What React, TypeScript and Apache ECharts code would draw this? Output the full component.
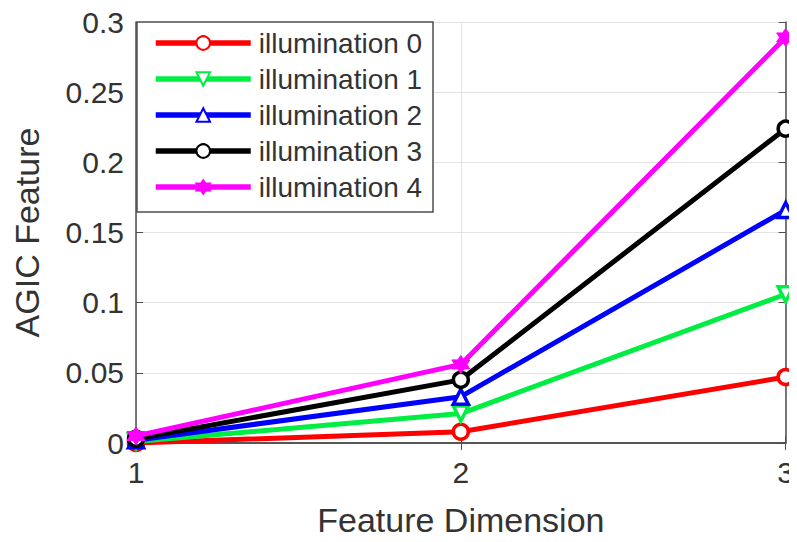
import React, { useEffect, useRef } from "react";
import * as echarts from "echarts";

const categories = ["1", "2", "3"];
const seriesNames = ["illumination 0", "illumination 1", "illumination 2", "illumination 3", "illumination 4"];
const illum0 = [0.0, 0.008, 0.047];
const illum1 = [0.001, 0.021, 0.106];
const illum2 = [0.002, 0.033, 0.166];
const illum3 = [0.003, 0.045, 0.224];
const illum4 = [0.005, 0.056, 0.289];
const yTicks = { min: 0, max: 0.3, interval: 0.05 };

const colors = ["#ff0000", "#00ee44", "#0000ff", "#000000", "#ff00ff"];
const star =
  "path://M0,-10 L2.9,-5 L8.66,-5 L5.8,0 L8.66,5 L2.9,5 L0,10 L-2.9,5 L-8.66,5 L-5.8,0 L-8.66,-5 L-2.9,-5 Z";

export default function App() {
  const ref = useRef<HTMLDivElement>(null);
  useEffect(() => {
    if (!ref.current) return;
    const chart = echarts.init(ref.current, undefined, { renderer: "svg" });
    const data = [illum0, illum1, illum2, illum3, illum4];
    const symbols = ["circle", "triangle", "triangle", "circle", star];
    const rotates = [0, 180, 0, 0, 0];
    const font = "Liberation Sans, Arial, sans-serif";
    const boxColor = "#4d4d4d";
    chart.setOption({
      animation: false,
      backgroundColor: "#ffffff",
      grid: { left: 136, right: 11, top: 22, bottom: 90, containLabel: false },
      legend: {
        orient: "vertical",
        left: 153,
        top: 29,
        itemWidth: 95,
        itemHeight: 17,
        itemGap: 8,
        padding: 0,
        z: 30,
        data: seriesNames,
        lineStyle: { width: 5.5 },
        textStyle: { fontFamily: font, fontSize: 28, color: "#333333", lineHeight: 28, padding: [0, 0, 0, 3] },
      },
      graphic: [
        {
          type: "rect",
          shape: { x: 137, y: 22, width: 296, height: 190 },
          style: { fill: "#ffffff", stroke: boxColor, lineWidth: 1.5 },
          z: 1,
        },
      ],
      xAxis: [
        {
          type: "category",
          data: categories,
          boundaryGap: false,
          name: "Feature Dimension",
          nameLocation: "middle",
          nameGap: 60,
          nameTextStyle: { fontFamily: font, fontSize: 34, color: "#333333" },
          axisLine: { lineStyle: { color: boxColor, width: 1.5 } },
          axisTick: { inside: true, length: 7, lineStyle: { color: boxColor } },
          axisLabel: { fontFamily: font, fontSize: 30, color: "#333333", margin: 14 },
          splitLine: { show: true, lineStyle: { color: "#e3e3e3", width: 1 } },
        },
        {
          type: "category",
          data: categories,
          boundaryGap: false,
          position: "top",
          axisLine: { lineStyle: { color: boxColor, width: 1.5 } },
          axisTick: { inside: true, length: 7, lineStyle: { color: boxColor } },
          axisLabel: { show: false },
          splitLine: { show: false },
        },
      ],
      yAxis: [
        {
          type: "value",
          min: yTicks.min,
          max: yTicks.max,
          interval: yTicks.interval,
          name: "AGIC Feature",
          nameLocation: "middle",
          nameGap: 92,
          nameTextStyle: { fontFamily: font, fontSize: 34, color: "#333333" },
          axisLine: { show: true, lineStyle: { color: boxColor, width: 1.5 } },
          axisTick: { show: true, inside: true, length: 7, lineStyle: { color: boxColor } },
          axisLabel: { fontFamily: font, fontSize: 30, color: "#333333", margin: 12 },
          splitLine: { show: true, lineStyle: { color: "#e3e3e3", width: 1 } },
        },
        {
          type: "value",
          min: yTicks.min,
          max: yTicks.max,
          interval: yTicks.interval,
          position: "right",
          axisLine: { show: true, lineStyle: { color: boxColor, width: 1.5 } },
          axisTick: { show: true, inside: true, length: 7, lineStyle: { color: boxColor } },
          axisLabel: { show: false },
          splitLine: { show: false },
        },
      ],
      series: seriesNames.map((name, i) => ({
        name,
        type: "line",
        data: data[i],
        xAxisIndex: 0,
        yAxisIndex: 0,
        symbol: symbols[i],
        symbolRotate: rotates[i],
        symbolSize: i === 4 ? 18 : 15,
        showAllSymbol: true,
        color: colors[i],
        lineStyle: { color: colors[i], width: 5 },
        itemStyle:
          i === 4
            ? { color: colors[i], borderColor: colors[i], borderWidth: 1 }
            : { color: "#ffffff", borderColor: colors[i], borderWidth: 3.5 },
        z: 2 + i,
      })),
    });
    return () => chart.dispose();
  }, []);
  return <div ref={ref} style={{ width: 797, height: 542, margin: -8 }} />;
}
